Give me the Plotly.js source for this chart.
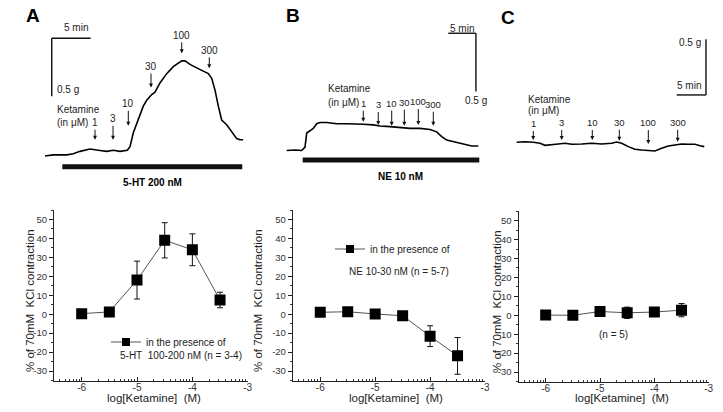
<!DOCTYPE html>
<html>
<head>
<meta charset="utf-8">
<script src="https://cdn.plot.ly/plotly-3.0.1.min.js"></script>
<style>
  html, body { margin: 0; padding: 0; background: #fff; }
  #chart { width: 723px; height: 412px; }
</style>
</head>
<body>
<div id="chart"></div>
<script>
// ---- dose-response (bottom row) ----
const logKet = [-6, -5.5, -5, -4.5, -4, -3.5];
const respHT = [0.3, 1.2, 18, 39, 34, 7.5];
const errHT = [0.5, 0.6, 10, 9.3, 8.4, 4.1];
const respNE = [1.0, 1.3, 0.1, -0.8, -11.6, -22];
const errNE = [0.5, 0.5, 0.6, 0.8, 5.5, 9.7];
const respKCl = [0.1, 0, 2, 1.3, 1.7, 2.7];
const errKCl = [0.5, 0.4, 1.2, 3, 2, 3.5];

const xTickVals = [-6, -5, -4, -3];
const xTickText = ['-6', '-5', '-4', '-3'];
const yTickVals = [-30, -20, -10, 0, 10, 20, 30, 40, 50];
const yTickText = ['-30', '-20', '-10', '0', '10', '20', '30', '40', '50'];

// ---- tension recordings (top row), time in min, tension in g ----
const tA = [0, 1.06, 2.78, 3.63, 4.49, 5.77, 6.83, 7.91, 8.76, 9.62, 10.55, 10.9, 11.32, 11.96, 12.6, 13.04, 13.68, 14.1, 14.74, 15.6, 16.45, 17.09, 17.53, 17.95, 18.59, 19.45, 20.3, 20.94, 21.37, 21.79, 22.22, 22.65, 23.29, 23.94, 24.58, 25.0, 25.4];
const gA = [0, 0.01, 0.01, 0.02, 0.04, 0.06, 0.05, 0.04, 0.05, 0.04, 0.05, 0.08, 0.2, 0.31, 0.43, 0.48, 0.53, 0.55, 0.63, 0.71, 0.77, 0.8, 0.82, 0.82, 0.79, 0.76, 0.73, 0.71, 0.67, 0.57, 0.43, 0.31, 0.27, 0.21, 0.15, 0.14, 0.14];

const tB = [0, 1.5, 2.71, 3.31, 3.62, 4.21, 4.81, 5.42, 6.02, 7.23, 9.04, 10.85, 12.66, 13.85, 15.66, 16.87, 18.68, 20.49, 22.3, 24.11, 25.92, 27.12, 28.03, 28.93, 30.13, 31.34, 32.55, 33.45, 34.65];
const gB = [0.01, 0.015, 0.01, 0.04, 0.16, 0.18, 0.2, 0.24, 0.25, 0.25, 0.24, 0.24, 0.24, 0.235, 0.23, 0.22, 0.215, 0.205, 0.2, 0.2, 0.19, 0.17, 0.13, 0.1, 0.086, 0.072, 0.057, 0.049, 0.049];

const tC = [0, 1.42, 2.83, 3.98, 4.83, 5.97, 7.1, 8.24, 9.39, 11.09, 12.8, 14.5, 16.21, 17.06, 17.92, 19.04, 20.19, 21.33, 22.46, 23.6, 24.74, 25.87, 27.01, 28.16, 29.28, 30.43, 31.28, 32.01];
const gC = [0, 0.005, 0, -0.009, -0.027, -0.018, -0.015, -0.009, -0.018, -0.015, -0.009, -0.015, -0.009, 0.003, -0.009, -0.039, -0.063, -0.069, -0.075, -0.078, -0.054, -0.033, -0.024, -0.015, -0.018, -0.018, -0.031, -0.039];

// ketamine additions (µM), time of each arrow and trace level at the tip
const doseLabels = ['1', '3', '10', '30', '100', '300'];
const doseTimeA = [6.41, 8.72, 10.68, 13.59, 17.53, 21.06];
const doseTipA = [0.14, 0.14, 0.26, 0.59, 0.885, 0.756];
const doseTimeB = [13.85, 16.56, 18.99, 21.27, 23.8, 26.51];
const doseTipB = [0.257, 0.229, 0.223, 0.223, 0.229, 0.223];
const doseTimeC = [2.83, 7.68, 12.9, 17.51, 22.46, 27.47];
const doseTipC = [0.021, 0.021, 0.021, 0.014, -0.015, 0.005];

const W = 723, H = 412;
const fx = p => p / W;
const fy = p => 1 - p / H;
const FONT = 'Liberation Sans, Arial, sans-serif';
const TXT = '#222';

// log-style minor ticks as drawn by the original software
const minorLog = [];
[-7, -6, -5, -4].forEach(function (d) {
    for (let k = 2; k <= 9; k++) {
        const v = d + Math.log10(k);
        if (v > -6.5 && v < -3) minorLog.push(v);
    }
});

function doseX(x0, x1, anchor) {
    return {
        domain: [fx(x0), fx(x1)], range: [-6.5, -3], anchor: anchor,
        tickmode: 'array', tickvals: xTickVals, ticktext: xTickText,
        ticks: 'inside', ticklen: 4, tickcolor: '#222', ticklabelstandoff: -3,
        showline: true, linecolor: '#222', linewidth: 1,
        showgrid: false, zeroline: false,
        tickfont: {family: FONT, size: 10, color: '#333'},
        minor: {tickmode: 'array', tickvals: minorLog, ticks: 'inside', ticklen: 2, tickcolor: '#333'}
    };
}

function doseY(y0, y1, anchor) {
    return {
        domain: [fy(y1), fy(y0)], range: [-35, 55], anchor: anchor,
        tickmode: 'array', tickvals: yTickVals, ticktext: yTickText,
        ticks: 'outside', ticklen: 4, tickcolor: '#222',
        showline: true, linecolor: '#222', linewidth: 1,
        showgrid: false, zeroline: false,
        tickfont: {family: FONT, size: 9.5, color: '#333'},
        minor: {dtick: 5, ticks: 'outside', ticklen: 2, tickcolor: '#333'}
    };
}

// invisible axes for the recordings, scaled from the picture
function traceAxes(box, ox, oy, pxMin, pxG, anchorX, anchorY) {
    return [
        {domain: [fx(box[0]), fx(box[1])], range: [(box[0] - ox) / pxMin, (box[1] - ox) / pxMin], visible: false, anchor: anchorY},
        {domain: [fy(box[3]), fy(box[2])], range: [(oy - box[3]) / pxG, (oy - box[2]) / pxG], visible: false, anchor: anchorX}
    ];
}

const axA = traceAxes([40, 250, 0, 200], 45, 156, 7.8, 116, 'x4', 'y4');
const axB = traceAxes([280, 490, 0, 200], 286.7, 151.7, 5.53, 116.7, 'x5', 'y5');
const axC = traceAxes([510, 723, 0, 200], 516.7, 142.3, 5.86, 111.4, 'x6', 'y6');

function doseTrace(y, err, xa, ya) {
    return {
        x: logKet, y: y, xaxis: xa, yaxis: ya, type: 'scatter', mode: 'lines+markers',
        line: {color: '#555', width: 1},
        marker: {symbol: 'square', size: 11, color: '#000'},
        error_y: {type: 'data', array: err, color: '#111', thickness: 1, width: 3},
        showlegend: false, hoverinfo: 'skip'
    };
}

function recTrace(t, g, xa, ya) {
    return {
        x: t, y: g, xaxis: xa, yaxis: ya, type: 'scatter', mode: 'lines',
        line: {color: '#000', width: 1.6}, showlegend: false, hoverinfo: 'skip'
    };
}

function legendEntry(legend) {
    return {
        x: [null], y: [null], type: 'scatter', mode: 'lines+markers', name: 'in the presence of',
        line: {color: '#555', width: 1}, marker: {symbol: 'square', size: 8, color: '#000'},
        showlegend: true, legend: legend
    };
}

const data = [
    doseTrace(respHT, errHT, 'x', 'y'),
    doseTrace(respNE, errNE, 'x2', 'y2'),
    doseTrace(respKCl, errKCl, 'x3', 'y3'),
    recTrace(tA, gA, 'x4', 'y4'),
    recTrace(tB, gB, 'x5', 'y5'),
    recTrace(tC, gC, 'x6', 'y6'),
    legendEntry('legend'),
    legendEntry('legend2')
];

const annotations = [];
const shapes = [];

function label(text, x, y, opts) {
    annotations.push(Object.assign({
        text: text, x: fx(x), y: fy(y), xref: 'paper', yref: 'paper', showarrow: false,
        xanchor: 'center', yanchor: 'middle',
        font: {family: FONT, size: 10, color: TXT}
    }, opts || {}));
}

function doseArrows(times, tips, offsets, xa, ya, size) {
    times.forEach(function (t, i) {
        annotations.push({
            text: doseLabels[i], x: t, y: tips[i], xref: xa, yref: ya,
            showarrow: true, ax: 0, ay: offsets[i], arrowhead: 2, arrowsize: 0.8,
            arrowwidth: 1, arrowcolor: '#111',
            font: {family: FONT, size: size, color: TXT}
        });
    });
}

doseArrows(doseTimeA, doseTipA, [-17, -21, -22, -21, -18, -18], 'x4', 'y4', 10);
doseArrows(doseTimeB, doseTipB, [-18, -20, -22, -23, -23, -21], 'x5', 'y5', 9.5);
doseArrows(doseTimeC, doseTipC, [-16, -17, -17, -18, -21, -19], 'x6', 'y6', 9.5);

function seg(xa, ya, x0, y0, x1, y1, w) {
    shapes.push({type: 'line', xref: xa, yref: ya, x0: x0, y0: y0, x1: x1, y1: y1,
        line: {color: '#111', width: w}});
}

// scale bars (5 min, 0.5 g) and agonist bars
seg('x4', 'y4', 0.86, 1.015, 5.86, 1.015, 1.4);
seg('x4', 'y4', 0.86, 1.015, 0.86, 0.515, 1.4);
seg('x4', 'y4', 2.22, -0.092, 25.29, -0.092, 5);
seg('x5', 'y5', 29.22, 1.015, 34.22, 1.015, 1.4);
seg('x5', 'y5', 34.22, 1.015, 34.22, 0.515, 1.4);
seg('x5', 'y5', 2.89, -0.071, 34.83, -0.071, 5);
seg('x6', 'y6', 32.3, 0.925, 32.3, 0.425, 1.4);
seg('x6', 'y6', 27.3, 0.425, 32.3, 0.425, 1.4);

// panel letters
label('<b>A</b>', 33, 16, {font: {family: FONT, size: 19, color: '#000'}});
label('<b>B</b>', 293, 16, {font: {family: FONT, size: 19, color: '#000'}});
label('<b>C</b>', 508, 18, {font: {family: FONT, size: 19, color: '#000'}});

// recording texts
label('5 min', 76, 28);
label('0.5 g', 68, 89);
label('Ketamine', 55, 109, {xanchor: 'left'});
label('(in μM)', 55, 123, {xanchor: 'left'});
label('<b>5-HT 200 nM</b>', 152, 182, {font: {family: FONT, size: 10, color: '#000'}});

label('5 min', 462, 29);
label('0.5 g', 476, 100);
label('Ketamine', 326, 88, {xanchor: 'left'});
label('(in μM)', 326, 102, {xanchor: 'left'});
label('<b>NE 10 nM</b>', 400, 176, {font: {family: FONT, size: 10, color: '#000'}});

label('0.5 g', 690, 43);
label('5 min', 689, 85);
label('Ketamine', 526, 99, {xanchor: 'left'});
label('(in μM)', 526, 110, {xanchor: 'left'});

// axis titles
const yTitle = '% of 70mM\u00a0\u00a0KCl contraction';
const xTitle = 'log[Ketamine]\u00a0\u00a0(M)';
const titleFont = {family: FONT, size: 11.5, color: TXT};
label(yTitle, 30, 301, {textangle: -90, font: titleFont});
label(yTitle, 258, 301, {textangle: -90, font: titleFont});
label(yTitle, 497, 302, {textangle: -90, font: titleFont});
label(xTitle, 154, 398, {font: titleFont});
label(xTitle, 396, 398, {font: titleFont});
label(xTitle, 622, 398, {font: titleFont});

// legend second lines and n
label('5-HT\u00a0\u00a0100-200 nM (n = 3-4)', 118, 355, {xanchor: 'left'});
label('NE 10-30 nM (n = 5-7)', 347, 271, {xanchor: 'left'});
label('(n = 5)', 613, 334);

const legendStyle = {
    xanchor: 'left', yanchor: 'middle', bgcolor: 'rgba(0,0,0,0)', borderwidth: 0,
    font: {family: FONT, size: 10, color: TXT}, itemwidth: 30
};

const layout = {
    width: W, height: H,
    margin: {l: 0, r: 0, t: 0, b: 0},
    paper_bgcolor: '#fff', plot_bgcolor: 'rgba(0,0,0,0)',
    xaxis: doseX(54, 247.7, 'y'), yaxis: doseY(210, 380.5, 'x'),
    xaxis2: doseX(292.8, 485, 'y2'), yaxis2: doseY(210, 380.5, 'x2'),
    xaxis3: doseX(518.5, 708.7, 'y3'), yaxis3: doseY(211.2, 381.5, 'x3'),
    xaxis4: axA[0], yaxis4: axA[1],
    xaxis5: axB[0], yaxis5: axB[1],
    xaxis6: axC[0], yaxis6: axC[1],
    legend: Object.assign({x: fx(106), y: fy(342)}, legendStyle),
    legend2: Object.assign({x: fx(330), y: fy(249)}, legendStyle),
    annotations: annotations,
    shapes: shapes
};

Plotly.newPlot('chart', data, layout, {staticPlot: true});
</script>
</body>
</html>
